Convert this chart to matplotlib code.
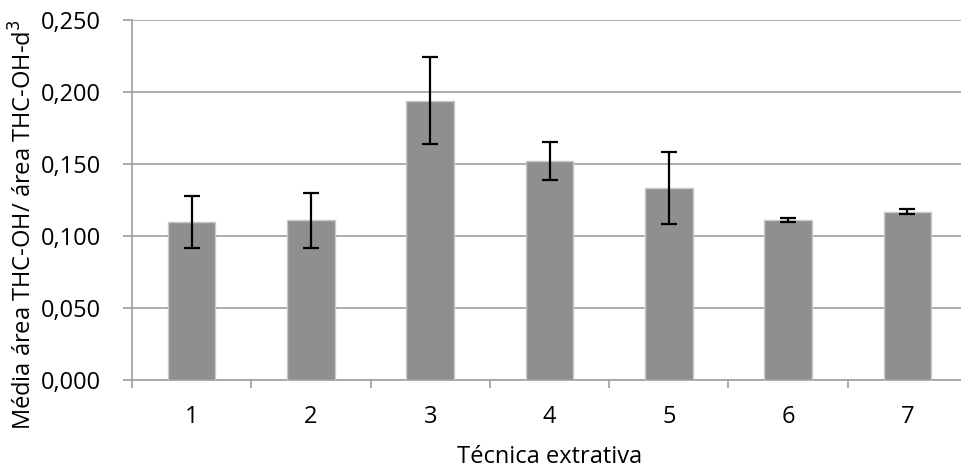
import numpy as np
import matplotlib.pyplot as plt
from matplotlib.ticker import FuncFormatter, MultipleLocator, FixedLocator

# Média das razões de área por técnica extrativa, com desvio
tecnicas = ['1', '2', '3', '4', '5', '6', '7']
media = [0.110, 0.111, 0.194, 0.152, 0.133, 0.111, 0.117]
desvio = [0.018, 0.019, 0.030, 0.013, 0.025, 0.0013, 0.002]

plt.rcParams['font.family'] = ['Open Sans', 'DejaVu Sans']
grid_color = '#a6a6a6'
fs = 17

fig = plt.figure(figsize=(9.61, 4.70), dpi=100)
ax = fig.add_axes([132 / 961, 90 / 470, 835 / 961, 360 / 470])

x = np.arange(1, len(tecnicas) + 1)
ax.bar(x, media, width=0.4, color='#8f8f8f', edgecolor='#c8c8c8',
       linewidth=1.0, zorder=3)
ax.errorbar(x, media, yerr=desvio, fmt='none', ecolor='black',
            elinewidth=1.6, capsize=6, capthick=1.6, zorder=4)

ax.set_xlim(0.5, len(tecnicas) + 0.5)
ax.set_ylim(0, 0.250)
ax.yaxis.set_major_locator(MultipleLocator(0.050))
ax.yaxis.set_major_formatter(FuncFormatter(lambda v, p: f'{v:.3f}'.replace('.', ',')))

# labels at the bar centres, small ticks between categories
ax.set_xticks(x)
ax.set_xticklabels(tecnicas)
ax.xaxis.set_minor_locator(FixedLocator(np.arange(0.5, len(tecnicas) + 1, 1)))
ax.tick_params(axis='x', which='major', length=0, pad=18, labelsize=fs)
ax.tick_params(axis='x', which='minor', length=6, width=1.3, color=grid_color)
ax.tick_params(axis='y', which='major', length=6.5, width=1.3, color=grid_color,
               labelsize=fs, pad=16)

ax.yaxis.grid(True, color=grid_color, linewidth=1.3, zorder=0)
ax.set_axisbelow(True)
for side in ['top', 'right']:
    ax.spines[side].set_visible(False)
for side in ['left', 'bottom']:
    ax.spines[side].set_color(grid_color)
    ax.spines[side].set_linewidth(1.3)

ax.set_xlabel('Técnica extrativa', fontsize=fs)
ax.xaxis.set_label_coords(0.5, -(457 - 380) / 360)
ax.xaxis.label.set_va('center')
ax.set_ylabel('Média área THC-OH/ área THC-OH-d$^3$', fontsize=fs)
ax.yaxis.set_label_coords((24 - 132) / 835, (380 - 225) / 360)
ax.yaxis.label.set_va('center')

fig.savefig('out.png', dpi=100)
